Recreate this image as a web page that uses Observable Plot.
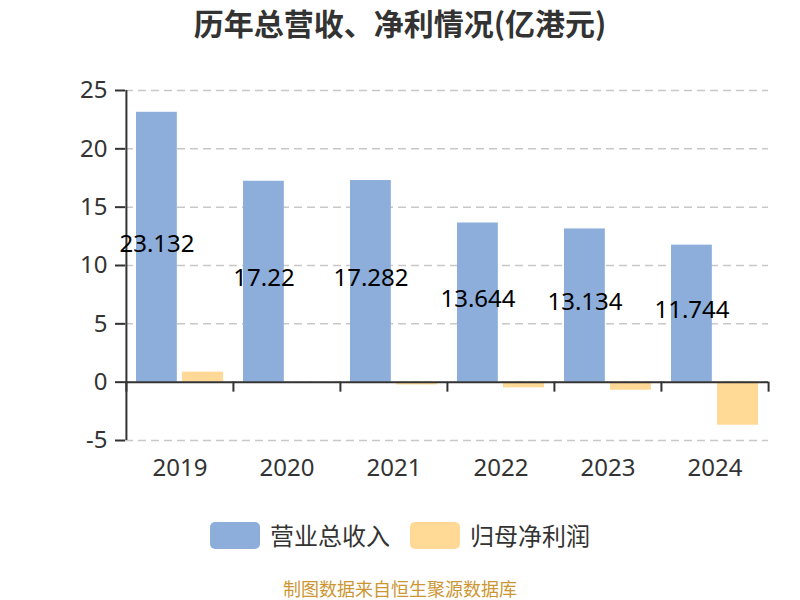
<!DOCTYPE html>
<html>
<head>
<meta charset="utf-8">
<script src="https://cdn.jsdelivr.net/npm/d3@7"></script>
<script src="https://cdn.jsdelivr.net/npm/@observablehq/plot@0.6"></script>
<style>
  body { margin: 0; background: #fff; }
  #wrap { position: relative; width: 800px; height: 600px; overflow: hidden; font-family: "Noto Sans CJK SC", "Noto Sans", sans-serif; }
  #chart { position: absolute; left: 0; top: 0; }
  .title { position: absolute; left: 0; top: 2px; width: 800px; text-align: center; font-size: 30px; font-weight: bold; color: #333; line-height: 40px; }
  .sw { position: absolute; width: 50px; height: 27px; border-radius: 5px; top: 522px; }
  .lt { position: absolute; top: 518px; font-size: 24px; line-height: 34px; color: #333; }
  .caption { position: absolute; left: 0; width: 800px; top: 578px; text-align: center; font-size: 18px; line-height: 20px; color: #CC9633; }
</style>
</head>
<body>
<div id="wrap">
  <div id="chart"></div>
  <div class="title">历年总营收、净利情况(亿港元)</div>
  <div class="sw" id="sw1" style="left:210px;"></div>
  <div class="lt" id="lt1" style="left:270px;"></div>
  <div class="sw" id="sw2" style="left:410px;"></div>
  <div class="lt" id="lt2" style="left:470px;"></div>
  <div class="caption">制图数据来自恒生聚源数据库</div>
</div>
<script>
const years = ["2019", "2020", "2021", "2022", "2023", "2024"];
const revenue = [23.132, 17.22, 17.282, 13.644, 13.134, 11.744];
const revenueLabels = ["23.132", "17.22", "17.282", "13.644", "13.134", "11.744"];
const netProfit = [0.86, -0.02, -0.24, -0.49, -0.69, -3.69];
const yTicks = [-5, 0, 5, 10, 15, 20, 25];
const seriesNames = ["营业总收入", "归母净利润"];
const colors = ["#8DAEDB", "#FFD995"];

const revData = years.map((y, i) => ({year: y, value: revenue[i], label: revenueLabels[i]}));
const npData = years.map((y, i) => ({year: y, value: netProfit[i]}));

const W = 800, H = 500, mL = 125, mR = 32, mT = 90, mB = 60;
const bw = (W - mL - mR) / years.length;

document.getElementById("sw1").style.background = colors[0];
document.getElementById("sw2").style.background = colors[1];
document.getElementById("lt1").textContent = seriesNames[0];
document.getElementById("lt2").textContent = seriesNames[1];

const chart = Plot.plot({
  width: W,
  height: H,
  marginLeft: mL,
  marginRight: mR,
  marginTop: mT,
  marginBottom: mB,
  style: {fontFamily: "'Noto Sans', sans-serif", fontSize: "24px", color: "#333", background: "transparent"},
  x: {type: "band", domain: years, padding: 0, label: null},
  y: {domain: [-5, 25], label: null},
  marks: [
    Plot.gridY(yTicks, {stroke: "#c8c8c8", strokeOpacity: 1, strokeDasharray: "8,5", strokeWidth: 1.5}),
    Plot.barY(revData, {x: "year", y: "value", fill: colors[0], insetLeft: 10, insetRight: bw - 51}),
    Plot.barY(npData, {x: "year", y: "value", fill: colors[1], insetLeft: 56, insetRight: 10}),
    Plot.ruleY([0], {stroke: "#333", strokeWidth: 2}),
    Plot.ruleX([years[0]], {x: d => d, dx: -bw / 2, y1: -5, y2: 25, stroke: "#333", strokeWidth: 2}),
    Plot.ruleX(years, {x: d => d, dx: -bw / 2, y1: 0, y2: 0, insetBottom: -10, stroke: "#333", strokeWidth: 2}),
    Plot.ruleX([years[years.length - 1]], {x: d => d, dx: bw / 2, y1: 0, y2: 0, insetBottom: -10, stroke: "#333", strokeWidth: 2}),
    Plot.axisY({ticks: yTicks, tickFormat: d => String(d), tickSize: 10, tickPadding: 8, strokeWidth: 2, label: null, fill: "#333", fontSize: 24}),
    Plot.axisX({tickSize: 0, tickPadding: 18, label: null, fill: "#333", fontSize: 24}),
    Plot.text(revData, {x: "year", y: d => d.value / 2, text: "label", dx: -23, dy: -3, fontSize: 24, fill: "#000"})
  ]
});
document.getElementById("chart").appendChild(chart);
</script>
</body>
</html>
